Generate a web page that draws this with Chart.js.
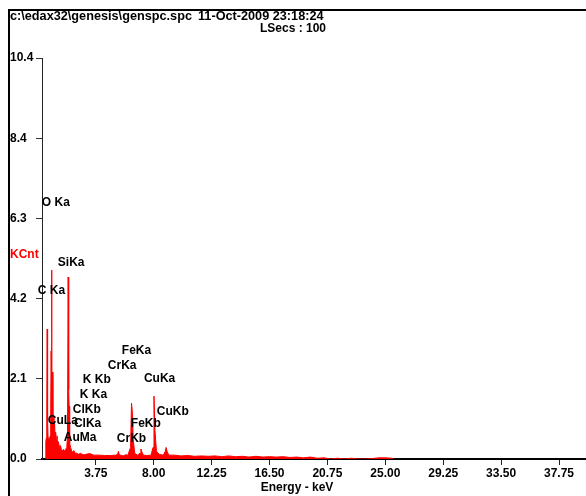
<!DOCTYPE html>
<html>
<head>
<meta charset="utf-8">
<script src="https://cdn.jsdelivr.net/npm/chart.js@4"></script>
<style>
  html, body { margin: 0; padding: 0; background: #fff; overflow: hidden; }
  #frame { position: absolute; left: 8px; top: 9px; width: 700px; height: 600px;
           border-left: 2px solid #000; border-top: 2px solid #000; }
  #spc { position: absolute; left: 0; top: 0; }
</style>
</head>
<body>
<div id="frame"></div>
<canvas id="spc" width="586" height="496"></canvas>
<script>
// spectrum data (energy keV / KCnt)
const energy = [
  0.05, 0.08, 0.12, 0.15, 0.18, 0.21, 0.25, 0.30, 0.35, 0.40,
  0.44, 0.47, 0.50, 0.53, 0.57, 0.60, 0.64, 0.68, 0.72, 0.76,
  0.80, 0.85, 0.90, 0.95, 1.00, 1.08, 1.15, 1.22, 1.30, 1.38,
  1.46, 1.54, 1.62, 1.67, 1.72, 1.76, 1.79, 1.83, 1.90, 1.98,
  2.06, 2.14, 2.22, 2.35, 2.50, 2.62, 2.75, 2.90,
  3.00, 3.30, 3.60, 4.00, 4.40, 4.80, 5.20, 5.35, 5.41, 5.48,
  5.60, 5.75, 5.95, 6.10, 6.30, 6.37, 6.43, 6.50, 6.60, 6.80,
  7.00, 7.06, 7.13, 7.25, 7.50, 7.80, 7.95, 8.02, 8.09, 8.20,
  8.40, 8.70, 8.85, 8.91, 8.98, 9.10,
  9.5, 10.0, 10.5, 11.0, 11.5, 12.0, 12.5, 13.0, 13.5, 14.0,
  14.5, 15.0, 15.5, 16.0, 16.5, 17.0, 17.5, 18.0, 18.5, 19.0,
  19.5, 20.0, 20.5, 21.0, 21.5, 22.0, 22.5, 23.0, 23.5, 24.0,
  24.5, 25.0, 25.5, 25.6
];
const kcnt = [
  0.00, 0.45, 0.55, 1.20, 3.37, 1.00, 0.50, 0.55, 0.50, 0.60,
  1.30, 2.80, 4.90, 1.60, 2.25, 1.00, 1.10, 0.80, 0.95, 0.60,
  0.70, 0.50, 0.60, 0.40, 0.45, 0.30, 0.35, 0.25, 0.22, 0.25,
  0.20, 0.25, 0.30, 0.60, 4.72, 1.80, 1.37, 0.40, 0.30, 0.20,
  0.18, 0.22, 0.15, 0.15, 0.12, 0.15, 0.12, 0.11,
  0.12, 0.14, 0.10, 0.10, 0.09, 0.09, 0.10, 0.12, 0.20, 0.10,
  0.10, 0.08, 0.11, 0.10, 0.30, 1.45, 1.22, 0.50, 0.15, 0.10,
  0.15, 0.26, 0.18, 0.10, 0.09, 0.10, 0.30, 1.63, 0.75, 0.20,
  0.12, 0.10, 0.20, 0.30, 0.20, 0.10,
  0.10, 0.08, 0.09, 0.07, 0.08, 0.07, 0.08, 0.06, 0.08, 0.06,
  0.07, 0.05, 0.07, 0.05, 0.06, 0.05, 0.06, 0.04, 0.05, 0.03,
  0.05, 0.02, 0.03, 0.00, 0.02, 0.00, 0.02, 0.00, 0.00, 0.01,
  0.03, 0.03, 0.02, 0.00
];

// axis ticks
const xTickValues = [3.75, 8.00, 12.25, 16.50, 20.75, 25.00, 29.25, 33.50, 37.75];
const yTickValues = [0, 2.08, 4.16, 6.24, 8.32, 10.4];
const yTickLabels = ['0.0', '2.1', '4.2', '6.3', '8.4', '10.4'];

// peak labels: name, energy, kcnt (left / middle of text)
const peakNames = ['O Ka', 'SiKa', 'C Ka', 'FeKa', 'CrKa', 'K Kb', 'CuKa', 'K Ka',
                   'ClKb', 'CuKb', 'CuLa', 'ClKa', 'FeKb', 'AuMa', 'CrKb'];
const peakE = [-0.21, 0.96, -0.51, 5.66, 4.63, 2.80, 7.28, 2.58,
               2.06, 8.23, 0.23, 2.14, 6.32, 1.40, 5.29];
const peakK = [6.64, 5.08, 4.36, 2.80, 2.41, 2.05, 2.07, 1.66,
               1.27, 1.24, 0.99, 0.91, 0.91, 0.54, 0.52];

const headerFile = 'c:\\edax32\\genesis\\genspc.spc';
const headerDate = '11-Oct-2009 23:18:24';
const lsecsText = 'LSecs : 100';

const FAMILY = '"Liberation Sans", Arial, sans-serif';
const FONT = 'bold 12px ' + FAMILY;

const textPlugin = {
  id: 'spcText',
  afterDraw(chart) {
    const ctx = chart.ctx;
    const xs = chart.scales.x;
    const ys = chart.scales.y;
    ctx.save();
    ctx.textBaseline = 'middle';
    ctx.textAlign = 'left';
    ctx.fillStyle = '#000';
    // header
    ctx.font = 'bold 12.7px ' + FAMILY;
    ctx.fillText(headerFile, 10, 16);
    ctx.fillText(headerDate, 198, 16);
    ctx.font = FONT;
    ctx.textAlign = 'right';
    ctx.fillText(lsecsText, 326, 29);

    // peak names
    ctx.textAlign = 'left';
    peakNames.forEach((name, i) => {
      ctx.fillText(name, xs.getPixelForValue(peakE[i]), ys.getPixelForValue(peakK[i]));
    });

    ctx.fillStyle = '#ff0000';
    ctx.fillText('KCnt', 10, 255);

    ctx.fillStyle = '#000';
    ctx.textAlign = 'center';
    ctx.fillText('Energy - keV', 297, 488);
    ctx.restore();
  }
};

new Chart(document.getElementById('spc'), {
  type: 'line',
  data: {
    datasets: [{
      data: energy.map((e, i) => ({ x: e, y: kcnt[i] })),
      borderColor: '#ff0000',
      backgroundColor: '#ff0000',
      borderWidth: 1,
      pointRadius: 0,
      fill: 'origin',
      tension: 0
    }]
  },
  options: {
    responsive: false,
    animation: false,
    devicePixelRatio: 1,
    layout: { padding: { left: 10, top: 58, right: 0, bottom: 0 } },
    plugins: { legend: { display: false }, tooltip: { enabled: false } },
    scales: {
      x: {
        type: 'linear',
        min: -0.2,
        max: 39.73,
        afterBuildTicks: (scale) => { scale.ticks = xTickValues.map(v => ({ value: v })); },
        afterFit: (scale) => { scale.height = 37; },
        ticks: {
          color: '#000',
          font: { family: FAMILY, size: 12, weight: 'bold' },
          padding: 1,
          maxRotation: 0,
          autoSkip: false,
          callback: (v) => v.toFixed(2)
        },
        grid: { drawOnChartArea: false, tickLength: 6, color: '#222', tickWidth: 1 },
        border: { color: '#000', width: 2 }
      },
      y: {
        min: 0,
        max: 10.4,
        afterBuildTicks: (scale) => { scale.ticks = yTickValues.map(v => ({ value: v })); },
        afterFit: (scale) => { scale.width = 32; },
        ticks: {
          color: '#000',
          crossAlign: 'far',
          font: { family: FAMILY, size: 12, weight: 'bold' },
          callback: (v, i) => yTickLabels[i]
        },
        grid: { drawOnChartArea: false, tickLength: 6, color: '#333', tickWidth: 1 },
        border: { color: '#222', width: 1 }
      }
    }
  },
  plugins: [textPlugin]
});
</script>
</body>
</html>
